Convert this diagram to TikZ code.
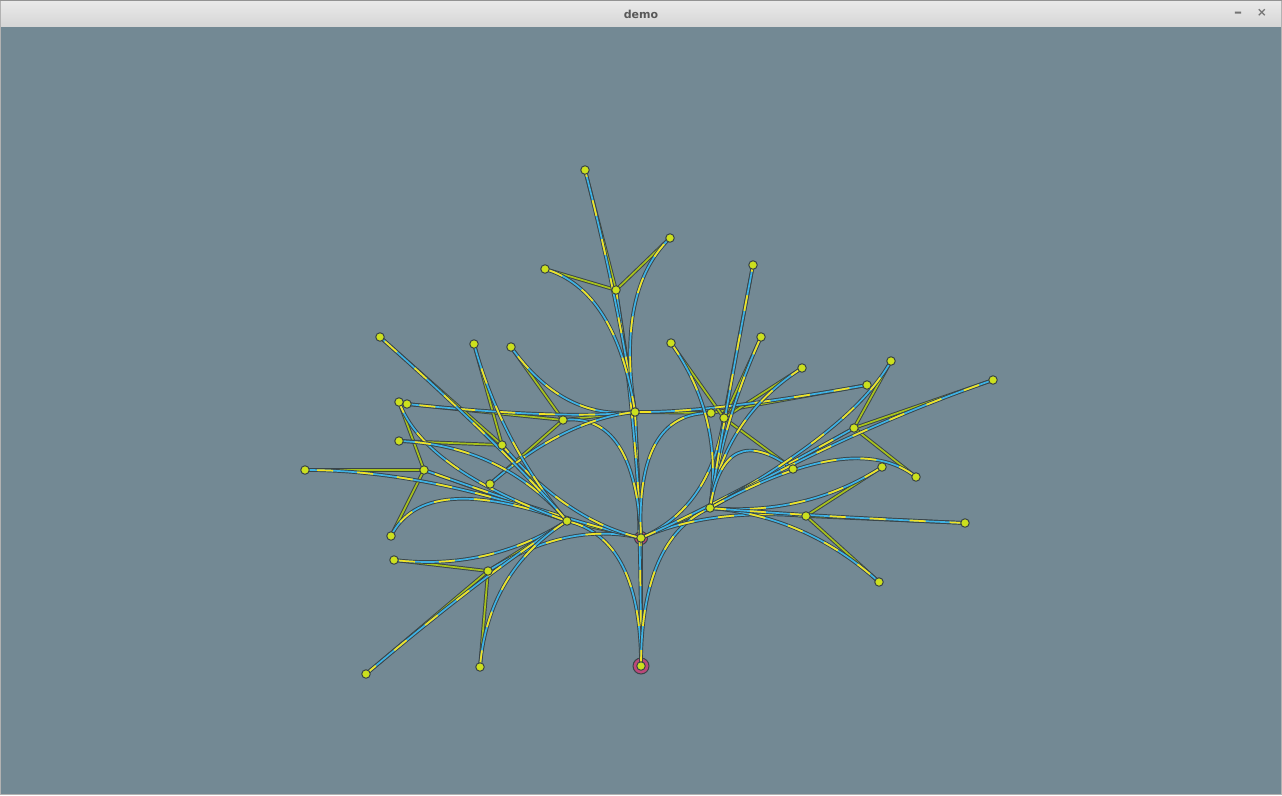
\documentclass[tikz,border=0pt]{standalone}
\usepackage{fontspec}
\setsansfont{DejaVu Sans}
\usetikzlibrary{calc,backgrounds}
\definecolor{slate}{RGB}{115,137,148}
\definecolor{outline}{RGB}{58,68,72}
\definecolor{sky}{RGB}{62,178,228}
\definecolor{yel}{RGB}{242,226,36}
\definecolor{olive}{RGB}{168,194,28}
\definecolor{leaf}{RGB}{204,224,30}
\definecolor{ring}{RGB}{186,72,122}
\definecolor{barhi}{RGB}{234,234,234}
\definecolor{barlo}{RGB}{214,214,214}
\definecolor{titletext}{RGB}{88,88,88}

\begin{document}
\begin{tikzpicture}[x=1pt, y=-1pt,
  vertex/.style={circle, draw=outline, fill=leaf, line width=1pt, minimum size=8.5pt, inner sep=0},
  rootring/.style={circle, draw=outline, fill=ring, line width=1pt, minimum size=16pt, inner sep=0},
  treeedge/.style={draw=olive, line width=1.7pt, preaction={draw=outline, line width=3.6pt, solid}},
  bundle/.style={draw=yel, line width=1.7pt, dash pattern=on 16pt off 24pt,
    preaction={draw=outline, line width=3.6pt, solid},
    preaction={draw=sky, line width=1.7pt, solid}}]
  \useasboundingbox (0,0) rectangle (1282,795);

  % vertices
  \foreach \n/\x/\y in {r0/641/666, r1/641/538, t2/635/412, a/567/521, e/710/508,
    t3/616/290, m/563/420, n/711/413, p1/585/170, p2/670/238, p3/545/269,
    m1/511/347, m2/407/404, m3/490/484, n1/867/385, b/488/571, c/424/470, d/502/445,
    b1/394/560, b2/366/674, b3/480/667, c1/305/470, c2/391/536, c3/399/402,
    d1/399/441, d2/474/344, d3/380/337, k/724/418, f/806/516, g/854/428,
    k1/671/343, k2/761/337, k3/802/368, k4/753/265, h/793/469,
    f1/882/467, f2/879/582, f3/965/523, g1/891/361, g2/993/380, g3/916/477}
    \node[vertex] (\n) at (\x,\y) {};

  \begin{pgfonlayer}{background}
    % window
    \fill[slate] (0,0) rectangle (1282,795);
    \shade[top color=barhi, bottom color=barlo] (0,0) rectangle (1282,26);
    \draw[gray!60, line width=1pt] (0.5,0.5) rectangle (1281.5,794.5);
    \draw[gray!85, line width=1.2pt] (0,0.6) -- (1282,0.6);

    \node[rootring] (r0ring) at (r0) {};
    \node[rootring, minimum size=13pt] (r1ring) at (r1) {};

    % parent links
    \foreach \ch/\pa in {t2/r1, a/r1, e/r1, t3/t2, m/t2, n/t2, b/a, c/a, d/a,
      k/e, f/e, g/e, p1/t3, p2/t3, p3/t3, m1/m, m2/m, m3/m, n1/n,
      b1/b, b2/b, b3/b, c1/c, c2/c, c3/c, d1/d, d2/d, d3/d,
      k1/k, k2/k, k3/k, k4/k, h/k, f1/f, f2/f, f3/f, g1/g, g2/g, g3/g}
      \draw[treeedge] (\pa.center) -- (\ch.center);

    % bundled links to grandparents
    \draw[bundle] (r0.center) -- (r1.center);
    \foreach \ch/\pa/\gp in {t2/r1/r0, a/r1/r0, e/r1/r0, t3/t2/r1, m/t2/r1, n/t2/r1,
      b/a/r1, c/a/r1, d/a/r1, k/e/r1, f/e/r1, g/e/r1,
      p1/t3/t2, p2/t3/t2, p3/t3/t2, m1/m/t2, m2/m/t2, m3/m/t2, n1/n/t2,
      b1/b/a, b2/b/a, b3/b/a, c1/c/a, c2/c/a, c3/c/a, d1/d/a, d2/d/a, d3/d/a,
      k1/k/e, k2/k/e, k3/k/e, k4/k/e, h/k/e, f1/f/e, f2/f/e, f3/f/e,
      g1/g/e, g2/g/e, g3/g/e}
      \draw[bundle] (\gp.center) .. controls ($(\gp.center)!2/3!(\pa.center)$)
        and ($(\ch.center)!2/3!(\pa.center)$) .. (\ch.center);
  \end{pgfonlayer}

  % title bar
  \node[text=titletext, font=\sffamily\bfseries\fontsize{11}{13}\selectfont] (title) at (641,14) {demo};
  \node[text=gray!90!black, font=\sffamily\bfseries\fontsize{16}{16}\selectfont] (minbtn) at (1238,15) {–};
  \node[text=gray!90!black, font=\sffamily\bfseries\fontsize{12}{12}\selectfont] (closebtn) at (1262,13) {×};
\end{tikzpicture}
\end{document}
